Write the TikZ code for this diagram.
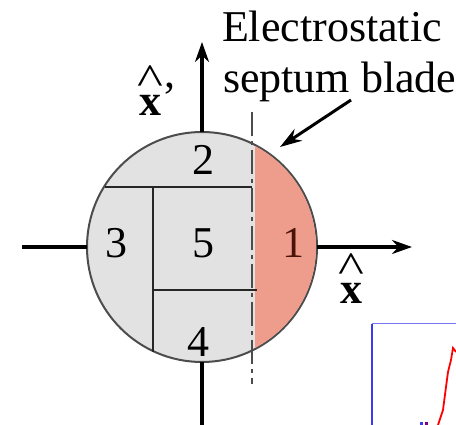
\documentclass[tikz,border=0pt]{standalone}
\usepackage{fontspec}
\setmainfont{Liberation Serif}
\usepackage{xcolor}
\usepackage{graphicx}
\usetikzlibrary{arrows.meta,positioning}
\definecolor{beamgray}{HTML}{E2E2E2}
\definecolor{beampink}{HTML}{EE9C8C}
\definecolor{plotblue}{HTML}{3A3AF0}
\definecolor{numred}{HTML}{4A1208}
\newcommand{\xhatlabel}{\scalebox{1.25}[1]{\^{}}\\\textbf{x}}
\begin{document}
\begin{tikzpicture}[
  x=1pt, y=-1pt,
  every node/.style={inner sep=0pt, outer sep=0pt},
  lbl/.style={font=\fontsize{44}{46}\selectfont, align=left, anchor=base west},
  num/.style={font=\fontsize{44}{46}\selectfont, anchor=base},
  hatlbl/.style={font=\fontsize{44}{7}\selectfont, align=center, anchor=south},
  axis/.style={line width=3.5pt, -{Stealth[length=20pt,width=14pt]}},
  axisplain/.style={line width=3.5pt},
  cut/.style={line width=2pt, black!85},
  arrow/.style={line width=3pt, -{Stealth[length=22pt,width=14pt]}}
]
  \useasboundingbox (0,0) rectangle (456,425);
  % phase space
  \node[circle, draw=black!70, line width=2pt, fill=beamgray, minimum size=230pt] (beam) at (202,247) {};
  \begin{scope}
    \clip (202,247) circle (114pt);
    \fill[beampink] (255,130) rectangle (320,365);
  \end{scope}
  \coordinate (leftend) at (22,247);
  \coordinate (rightend) at (412,247);
  \coordinate (topend) at (202,42);
  \coordinate (botend) at (202,425);
  \draw[axisplain] (leftend) -- (beam.west);
  \draw[axis] (beam.east) -- (rightend);
  \draw[axis] (beam.north) -- (topend);
  \draw[axisplain] (beam.south) -- (botend);
  % acceptance regions
  \coordinate (a) at (105,187);
  \coordinate (b) at (252,187);
  \coordinate (c) at (153,187);
  \coordinate (d) at (153,352);
  \coordinate (e) at (153,290);
  \coordinate (f) at (257,290);
  \draw[cut] (a) -- (b);
  \draw[cut] (c) -- (d);
  \draw[cut] (e) -- (f);
  \coordinate (bladetop) at (252,112);
  \coordinate (bladebot) at (252,384);
  \draw[line width=1.5pt, black!70, dash pattern=on 24pt off 5pt on 4pt off 5pt] (bladetop) -- (bladebot);
  \node[num] (n2) at (203,175) {2};
  \node[num] (n3) at (116,258) {3};
  \node[num] (n5) at (203,258) {5};
  \node[num, text=numred] (n1) at (293,258) {1};
  \node[num] (n4) at (198,356) {4};
  % labels
  \node[lbl] (title) at (222,42) {Electrostatic};
  \node[lbl] (blade) at (223,93) {septum blade};
  \coordinate (bladetail) at (351,100);
  \coordinate (bladetip) at (280,147);
  \draw[arrow] (bladetail) -- (bladetip);
  \node[hatlbl] (xp) at (150,116) {\xhatlabel};
  \node[num] (xpc) at (170,88) {,};
  \node[hatlbl] (xh) at (351,304) {\xhatlabel};
  % next plot, cut off
  \coordinate (plota) at (372,425);
  \coordinate (plotb) at (372,324);
  \coordinate (plotc) at (456,324);
  \draw[plotblue, line width=2.5pt] (plota) -- (plotb);
  \draw[plotblue!70, line width=1pt] (plotb) -- (plotc);
  \draw[red, line width=1.8pt] (438,425) -- (443,410) -- (446,387) -- (448,372) -- (451,360) -- (453,348) -- (456,352);
  \fill[plotblue] (420,422) rectangle (423,425);
  \fill[violet] (425,422) rectangle (428,425);
\end{tikzpicture}
\end{document}
